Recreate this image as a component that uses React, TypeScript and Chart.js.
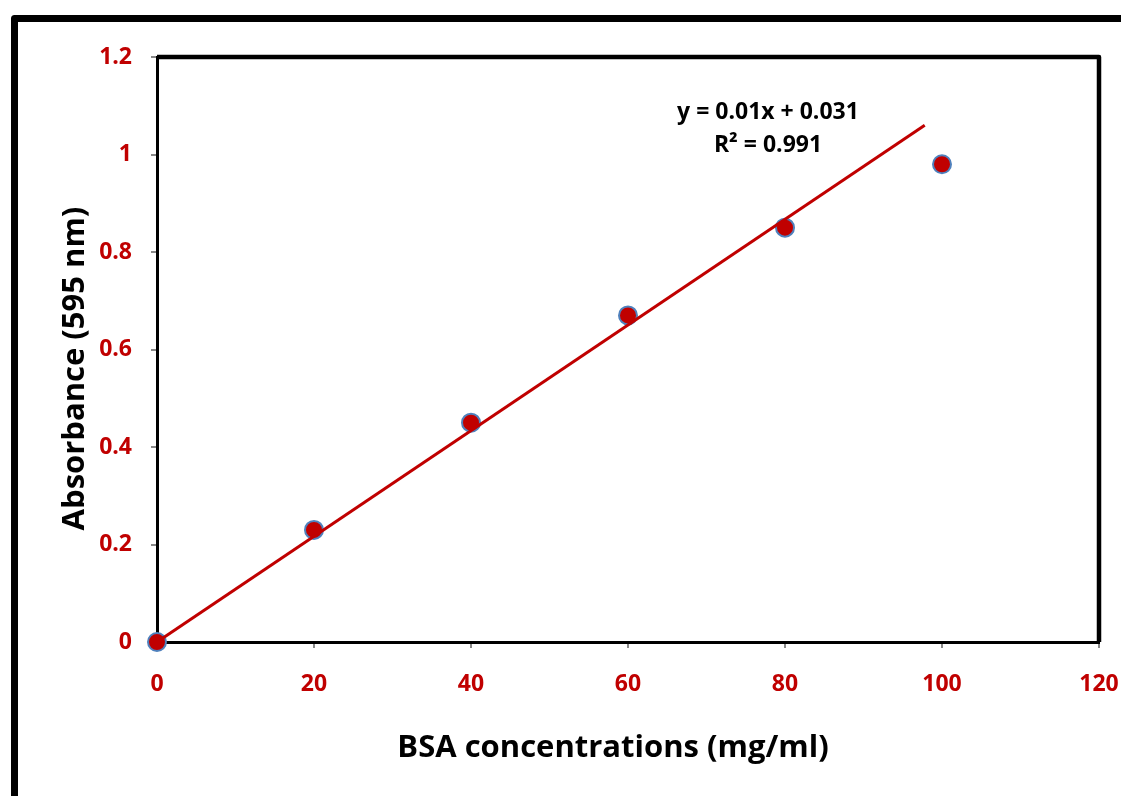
import React, { useEffect, useRef } from 'react';
import { Chart, registerables } from 'chart.js';

Chart.register(...registerables);

const concentrations = [0, 20, 40, 60, 80, 100];
const absorbance = [0, 0.23, 0.45, 0.67, 0.85, 0.98];
const trendX = [0, 97.8];
const trendY = [0, 1.06];
const xTickValues = [0, 20, 40, 60, 80, 100, 120];
const yTickLabels = ['0', '0.2', '0.4', '0.6', '0.8', '1', '1.2'];
const equationLines = ['y = 0.01x + 0.031', 'R\u00B2 = 0.991'];
const xTitle = 'BSA concentrations (mg/ml)';
const yTitle = 'Absorbance (595 nm)';

const RED = '#C00000';
const FONT = '"Open Sans", "Noto Sans", sans-serif';

const framePlugin = {
  id: 'frameDecor',
  beforeDraw(chart: any) {
    const ctx = chart.ctx;
    ctx.save();
    ctx.fillStyle = '#ffffff';
    ctx.fillRect(0, 0, chart.width, chart.height);
    ctx.strokeStyle = '#000000';
    ctx.lineWidth = 7;
    ctx.lineJoin = 'round';
    ctx.strokeRect(14.5, 18.5, 2000, 2000);
    ctx.restore();
  },
  beforeDatasetsDraw(chart: any) {
    const ctx = chart.ctx;
    const a = chart.chartArea;
    ctx.save();
    ctx.strokeStyle = '#000000';
    ctx.lineWidth = 4.5;
    ctx.lineJoin = 'round';
    ctx.beginPath();
    ctx.moveTo(a.left, a.top);
    ctx.lineTo(a.right, a.top);
    ctx.lineTo(a.right, a.bottom);
    ctx.stroke();
    ctx.restore();
  },
  afterDraw(chart: any) {
    const ctx = chart.ctx;
    const a = chart.chartArea;
    ctx.save();
    ctx.fillStyle = '#000000';
    ctx.textAlign = 'center';
    ctx.textBaseline = 'middle';
    ctx.font = `bold 23px ${FONT}`;
    ctx.fillText(equationLines[0], 768, 112);
    ctx.fillText(equationLines[1], 768, 145);
    ctx.font = `bold 31px ${FONT}`;
    ctx.fillText(xTitle, 613, 748);
    ctx.translate(75, (a.top + a.bottom) / 2 + 19);
    ctx.rotate(-Math.PI / 2);
    ctx.fillText(yTitle, 0, 0);
    ctx.restore();
  },
};

export default function App() {
  const ref = useRef<HTMLCanvasElement | null>(null);

  useEffect(() => {
    document.body.style.margin = '0';
    const canvas = ref.current;
    if (!canvas) return;
    const chart = new Chart(canvas, {
      type: 'scatter',
      data: {
        datasets: [
          {
            label: 'Linear fit',
            data: trendX.map((x, i) => ({ x, y: trendY[i] })),
            showLine: true,
            borderColor: RED,
            borderWidth: 3,
            pointRadius: 0,
            clip: false,
          } as any,
          {
            label: 'Absorbance',
            data: concentrations.map((x, i) => ({ x, y: absorbance[i] })),
            backgroundColor: RED,
            borderColor: '#4F81BD',
            borderWidth: 2,
            pointRadius: 9,
            clip: false,
          } as any,
        ],
      },
      options: {
        responsive: false,
        animation: false,
        layout: { padding: { top: 57, right: 22, left: 0, bottom: 0 } },
        plugins: {
          legend: { display: false },
          tooltip: { enabled: false },
        },
        scales: {
          x: {
            type: 'linear',
            min: 0,
            max: 120,
            afterBuildTicks: (scale: any) => {
              scale.ticks = xTickValues.map((v) => ({ value: v }));
            },
            afterFit: (scale: any) => {
              scale.height = 796 - 642;
              scale.paddingLeft = 0;
              scale.paddingRight = 0;
            },
            ticks: {
              color: RED,
              font: { family: FONT, size: 23, weight: 'bold' },
              padding: 23,
              maxRotation: 0,
            },
            grid: {
              drawOnChartArea: false,
              drawTicks: true,
              tickLength: 6,
              color: '#888888',
              lineWidth: 2,
            },
            border: { display: true, color: '#000000', width: 3 },
          },
          y: {
            type: 'linear',
            min: 0,
            max: 1.2,
            ticks: {
              stepSize: 0.2,
              color: RED,
              font: { family: FONT, size: 23, weight: 'bold' },
              padding: 19,
              callback: (v: any) => yTickLabels[Math.round(Number(v) / 0.2)] ?? '',
            },
            afterFit: (scale: any) => {
              scale.width = 157;
              scale.paddingTop = 0;
              scale.paddingBottom = 0;
            },
            grid: {
              drawOnChartArea: false,
              drawTicks: true,
              tickLength: 6,
              color: '#888888',
              lineWidth: 2,
            },
            border: { display: true, color: '#000000', width: 3 },
          },
        },
      },
      plugins: [framePlugin],
    } as any);
    return () => chart.destroy();
  }, []);

  return (
    <div style={{ position: 'absolute', left: 0, top: 0, width: 1121, height: 796 }}>
      <canvas ref={ref} width={1121} height={796} />
    </div>
  );
}
